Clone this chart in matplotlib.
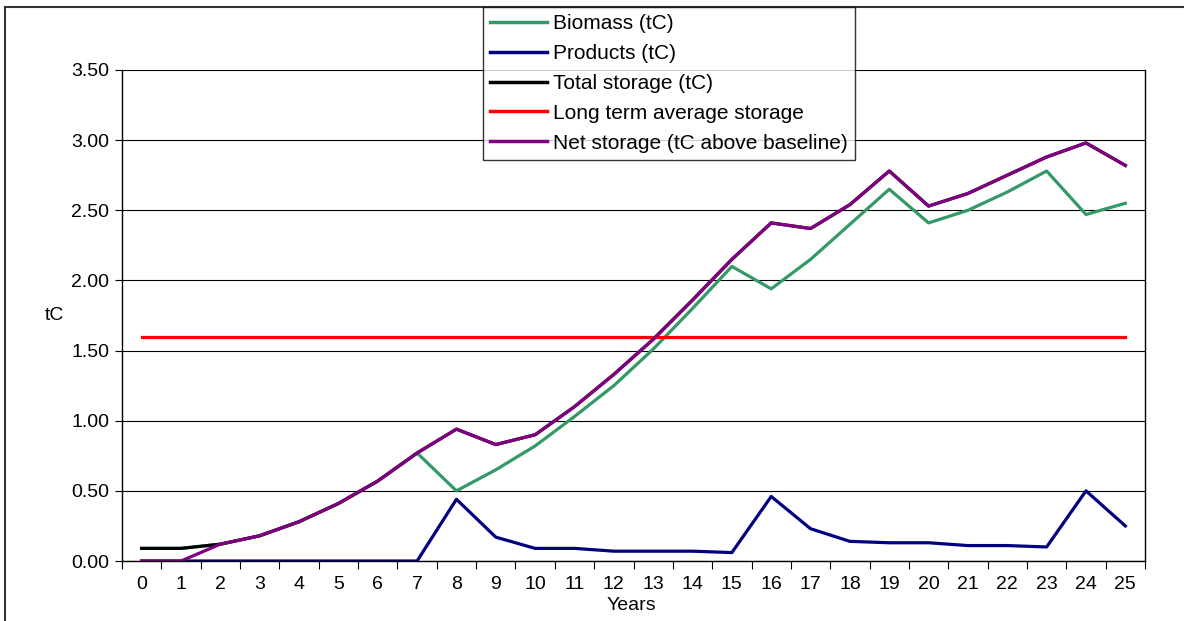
import numpy as np
import matplotlib
matplotlib.use("Agg")
import matplotlib.pyplot as plt
from matplotlib.lines import Line2D

plt.rcParams['font.family'] = ['Liberation Sans', 'DejaVu Sans']

years = list(range(26))
biomass = [0.09, 0.09, 0.12, 0.18, 0.28, 0.41, 0.57, 0.77, 0.50, 0.65, 0.82, 1.03, 1.25, 1.51,
           1.80, 2.10, 1.94, 2.15, 2.40, 2.65, 2.41, 2.50, 2.63, 2.78, 2.47, 2.55]
products = [0, 0, 0, 0, 0, 0, 0, 0, 0.44, 0.17, 0.09, 0.09, 0.07, 0.07,
            0.07, 0.06, 0.46, 0.23, 0.14, 0.13, 0.13, 0.11, 0.11, 0.10, 0.50, 0.25]
total = [0.09, 0.09, 0.12, 0.18, 0.28, 0.41, 0.57, 0.77, 0.94, 0.83, 0.90, 1.10, 1.33, 1.58,
         1.86, 2.15, 2.41, 2.37, 2.54, 2.78, 2.53, 2.62, 2.75, 2.88, 2.98, 2.82]
long_term = [1.6] * 26
net = [0, 0, 0.12, 0.18, 0.28, 0.41, 0.57, 0.77, 0.94, 0.83, 0.90, 1.10, 1.33, 1.58,
       1.86, 2.15, 2.41, 2.37, 2.54, 2.78, 2.53, 2.62, 2.75, 2.88, 2.98, 2.82]
yticks = [0, 0.5, 1.0, 1.5, 2.0, 2.5, 3.0, 3.5]

W, H = 1184, 621
fig = plt.figure(figsize=(W / 100, H / 100), dpi=100)
ax = fig.add_axes([122 / W, 1 - 561 / H, (1145 - 122) / W, (561 - 70) / H])

lw = 2.3
ax.plot(years, biomass, color='#339966', lw=lw, label='Biomass (tC)')
ax.plot(years, products, color='#000080', lw=lw, label='Products (tC)')
ax.plot(years, total, color='black', lw=lw, label='Total storage (tC)')
ax.plot(years, long_term, color='#FF0000', lw=lw, label='Long term average storage')
ax.plot(years, net, color='#800080', lw=lw, label='Net storage (tC above baseline)')

ax.set_xlim(-0.5, 25.5)
ax.set_ylim(0, 3.5)
ax.set_yticks(yticks)
ax.set_yticklabels([f"{v:.2f}" for v in yticks], fontsize=14)
ax.set_xticks(years)
ax.set_xticklabels([str(y) for y in years], fontsize=14)
ax.set_xticks(np.arange(-0.5, 26, 1), minor=True)
ax.tick_params(axis='x', which='major', length=0, pad=11)
ax.tick_params(axis='x', which='minor', length=6, width=0.8, direction='out')
ax.tick_params(axis='y', length=5, width=0.8, pad=4)
ax.yaxis.grid(True, color='black', lw=0.8)
ax.set_axisbelow(True)
for s in ['left', 'bottom', 'right']:
    ax.spines[s].set_linewidth(1.0)
ax.spines['top'].set_visible(False)

fig.text(631 / W, 1 - 605 / H, 'Years', ha='center', va='center', fontsize=14)
fig.text(54 / W, 1 - 316 / H, 'tC', ha='center', va='center', fontsize=14)

# outer chart border (extends past right/bottom edges)
fig.add_artist(Line2D([5 / W, 1.01], [1 - 7 / H, 1 - 7 / H], color='#333333', lw=1.5))
fig.add_artist(Line2D([5 / W, 5 / W], [1 - 7 / H, -0.01], color='#333333', lw=1.5))

leg = fig.legend(loc='upper left', bbox_to_anchor=(483 / W, 1 - 7 / H), borderaxespad=0,
                 fontsize=15, frameon=True, fancybox=False, edgecolor='black',
                 handlelength=2.7, handletextpad=0.3, labelspacing=0.52,
                 borderpad=0.35)
leg.get_frame().set_linewidth(1.0)
for line in leg.get_lines():
    line.set_linewidth(2.5)

fig.savefig('out.png', dpi=100)
